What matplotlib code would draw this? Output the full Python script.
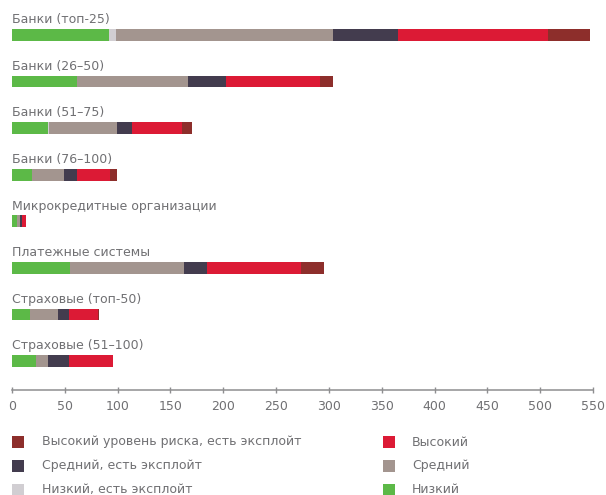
import numpy as np
import matplotlib
matplotlib.use("Agg")
import matplotlib.pyplot as plt
from matplotlib.patches import Rectangle

# Categories (top to bottom)
categories = [
    "Банки (топ-25)",
    "Банки (26–50)",
    "Банки (51–75)",
    "Банки (76–100)",
    "Микрокредитные организации",
    "Платежные системы",
    "Страховые (топ-50)",
    "Страховые (51–100)",
]

# Vulnerability counts by risk level
low          = [92, 62, 34, 19, 5, 55, 17, 23]
low_exploit  = [6, 0, 1, 0, 0, 0, 0, 0]
medium       = [206, 105, 64, 30, 3, 108, 27, 11]
med_exploit  = [61, 36, 15, 13, 1, 22, 10, 20]
high         = [142, 89, 47, 31, 4, 89, 27, 42]
high_exploit = [40, 12, 9, 6, 0, 21, 1, 0]

series_labels = [
    "Низкий",
    "Низкий, есть эксплойт",
    "Средний",
    "Средний, есть эксплойт",
    "Высокий",
    "Высокий уровень риска, есть эксплойт",
]
series_colors = ["#5cb947", "#d1ced2", "#a3958f", "#433c4e", "#dc1a35", "#8d2e2b"]

x_ticks = [0, 50, 100, 150, 200, 250, 300, 350, 400, 450, 500, 550]

TEXT = "#707073"
AXIS = "#8e8e90"
FONT = "DejaVu Sans"

W, H = 606, 495
fig = plt.figure(figsize=(W / 100, H / 100), dpi=100)

# Axes placement in pixel terms
left_px, right_px = 12, 593
bottom_px = 390  # from top
ax = fig.add_axes([left_px / W, (H - bottom_px) / H, (right_px - left_px) / W, bottom_px / H])

step_px = 46.57
first_center_px = 35
units = bottom_px / step_px
ytop = -first_center_px / step_px
ax.set_ylim(units + ytop, ytop)
ax.set_xlim(0, 550)

bar_h = 11.7 / step_px
y = np.arange(len(categories))
stack = [low, low_exploit, medium, med_exploit, high, high_exploit]
left = np.zeros(len(categories))
for vals, col, lab in zip(stack, series_colors, series_labels):
    vals = np.array(vals, dtype=float)
    ax.barh(y, vals, left=left, height=bar_h, color=col, edgecolor="none",
            linewidth=0, label=lab)
    left += vals

# Category names above each bar
label_off = 11.7 / step_px
for i, name in enumerate(categories):
    ax.text(0, i - label_off, name, ha="left", va="baseline",
            fontsize=9, color=TEXT, family=FONT)

for s in ["left", "top", "right"]:
    ax.spines[s].set_visible(False)
ax.spines["bottom"].set_color(AXIS)
ax.spines["bottom"].set_linewidth(1.1)
ax.set_yticks([])
ax.set_xticks(x_ticks)
ax.set_xticklabels([str(t) for t in x_ticks], fontsize=9, color=TEXT, family=FONT)
ax.tick_params(axis="x", direction="inout", length=4, width=1, color=AXIS, pad=5)
ax.patch.set_alpha(0)

# Legend laid out in two columns
legend_order = [
    (5, 0, 0), (3, 0, 1), (1, 0, 2),
    (4, 1, 0), (2, 1, 1), (0, 1, 2),
]
col_sq_x = [12, 383]
col_tx_x = [42, 412]
row_y = [442, 466, 489.5]
sq = 11.5
for idx, c, r in legend_order:
    x0 = col_sq_x[c]
    yc = row_y[r]
    fig.add_artist(Rectangle(((x0) / W, (H - yc - sq / 2) / H), sq / W, sq / H,
                             transform=fig.transFigure, facecolor=series_colors[idx],
                             edgecolor="none"))
    fig.text(col_tx_x[c] / W, (H - yc) / H, series_labels[idx], ha="left",
             va="center", fontsize=9, color=TEXT, family=FONT)

fig.savefig("out.png", dpi=100, facecolor="white")
